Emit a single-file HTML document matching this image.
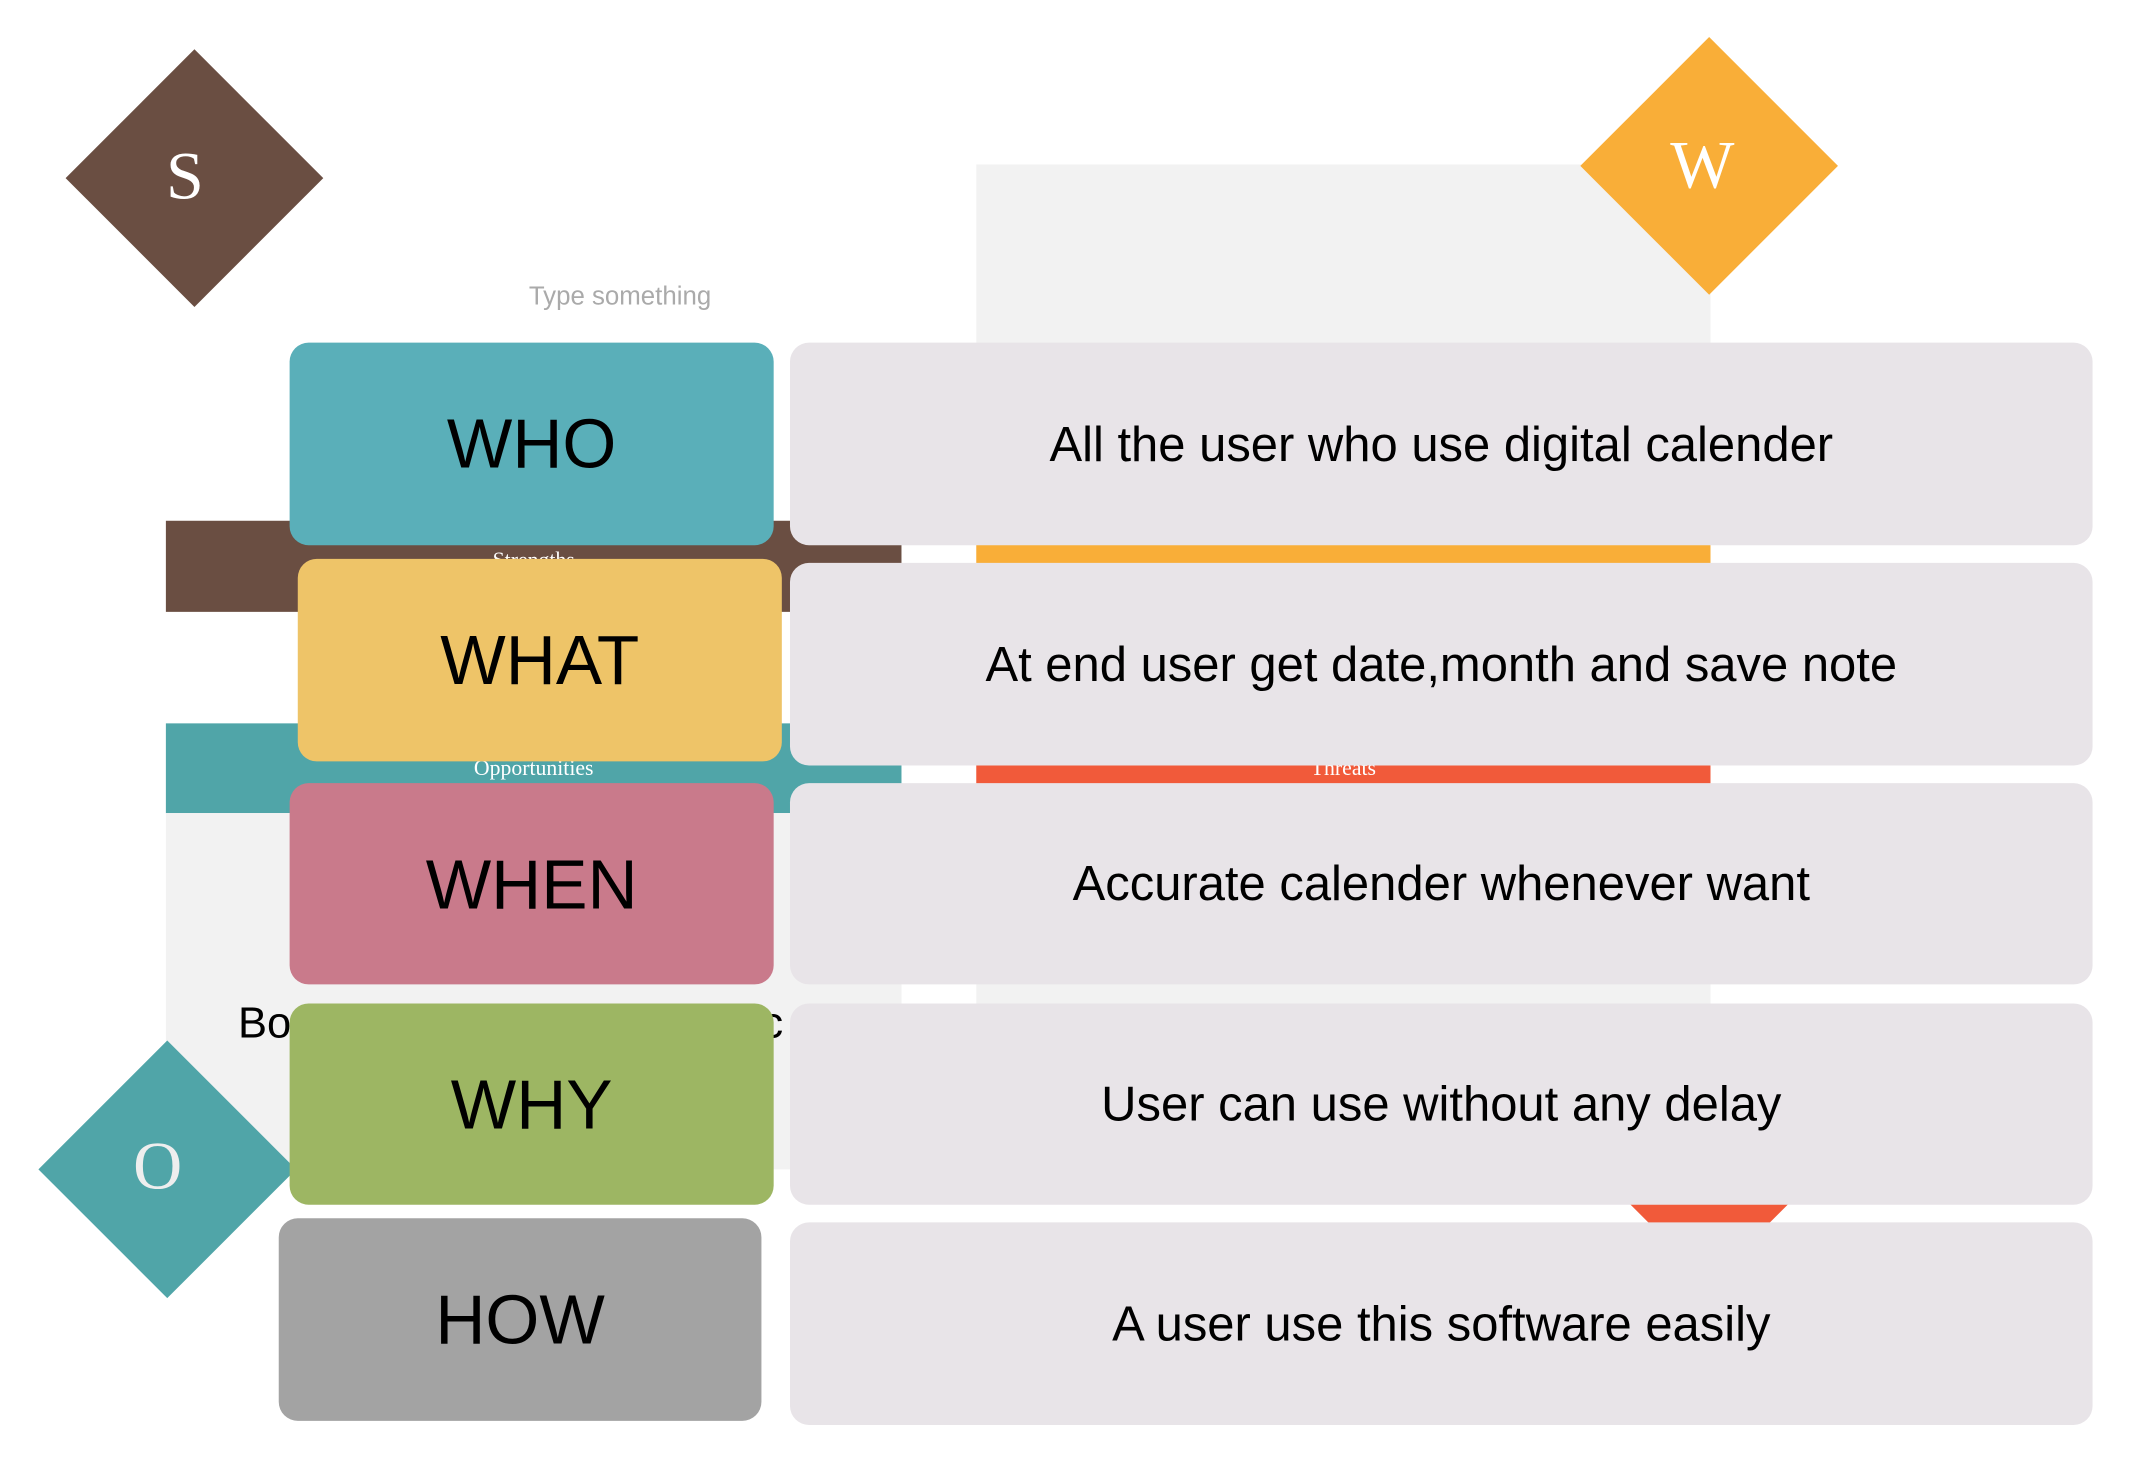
<!DOCTYPE html>
<html><head><meta charset="utf-8"><style>
html,body{margin:0;padding:0;background:#fff;width:2132px;height:1464px;overflow:hidden}
#w{position:absolute;left:0;top:0;width:1568px;height:1077px;transform:scale(1.3597);transform-origin:0 0;font-family:"Liberation Sans","DejaVu Sans",sans-serif}
.a{position:absolute}
.dia{position:absolute;transform:rotate(45deg)}
.dl{position:absolute;color:#fff;font-family:"Liberation Serif",serif;text-align:center}
.l{position:absolute;border-radius:14px;display:flex;align-items:center;justify-content:center;font-size:51px;color:#000}
.r{position:absolute;left:581px;width:958px;height:149px;border-radius:14px;background:#e8e4e8;display:flex;align-items:center;justify-content:center;font-size:36px;color:#000}
</style></head><body><div id="w">
<div class="a" style="left:718px;top:121px;width:540px;height:262px;background:#f2f2f2"></div>
<div class="a" style="left:718px;top:383px;width:540px;height:67px;background:#f9ae38"></div>
<div class="a" style="left:718px;top:450px;width:540px;height:82px;background:#fff"></div>
<div class="a" style="left:718px;top:532px;width:540px;height:66px;background:#f15a3a;color:#fff;font-family:'Liberation Serif',serif;font-size:16px;text-align:center;line-height:68px">Threats</div>
<div class="a" style="left:718px;top:598px;width:540px;height:262px;background:#f2f2f2"></div>
<div class="a" style="left:122px;top:383px;width:541px;height:67px;background:#6a4e42;color:#fff;font-family:'Liberation Serif',serif;font-size:16px;text-align:center;line-height:60px">Strengths</div>
<div class="a" style="left:122px;top:532px;width:541px;height:66px;background:#50a5a8;color:#fff;font-family:'Liberation Serif',serif;font-size:16px;text-align:center;line-height:68px">Opportunities</div>
<div class="a" style="left:122px;top:598px;width:541px;height:262px;background:#f2f2f2"></div>
<div class="a" style="left:175px;top:734px;font-size:32px;color:#000">Bo</div>
<div class="a" style="left:560px;top:734px;font-size:32px;color:#000">c</div>
<div class="dia" style="left:76px;top:64px;width:134px;height:134px;background:#6a4e42"></div>
<div class="dl" style="left:113px;top:100px;width:46px;font-size:50px">S</div>
<div class="dia" style="left:1190px;top:55px;width:134px;height:134px;background:#f9ae38"></div>
<div class="dl" style="left:1222px;top:92px;width:60px;font-size:50px">W</div>
<div class="dia" style="left:1190px;top:782px;width:134px;height:134px;background:#f15a3a"></div>
<div class="dia" style="left:56px;top:793px;width:134px;height:134px;background:#50a5a8"></div>
<div class="dl" style="left:93px;top:828px;width:46px;font-size:50px;color:#eee">O</div>
<div class="a" style="left:0;top:208px;width:912px;text-align:center;font-size:19px;color:#aaa">Type something</div>
<div class="l" style="left:213px;top:252px;width:356px;height:149px;background:#5aafb9">WHO</div>
<div class="l" style="left:219px;top:411px;width:356px;height:149px;background:#eec468">WHAT</div>
<div class="l" style="left:213px;top:576px;width:356px;height:148px;background:#c97a8b">WHEN</div>
<div class="l" style="left:213px;top:738px;width:356px;height:148px;background:#9db663">WHY</div>
<div class="l" style="left:205px;top:896px;width:355px;height:149px;background:#a3a3a3">HOW</div>
<div class="r" style="top:252px">All the user who use digital calender</div>
<div class="r" style="top:414px">At end user get date,month and save note</div>
<div class="r" style="top:576px;height:148px">Accurate calender whenever want</div>
<div class="r" style="top:738px;height:148px">User can use without any delay</div>
<div class="r" style="top:899px">A user use this software easily</div>
</div></body></html>
